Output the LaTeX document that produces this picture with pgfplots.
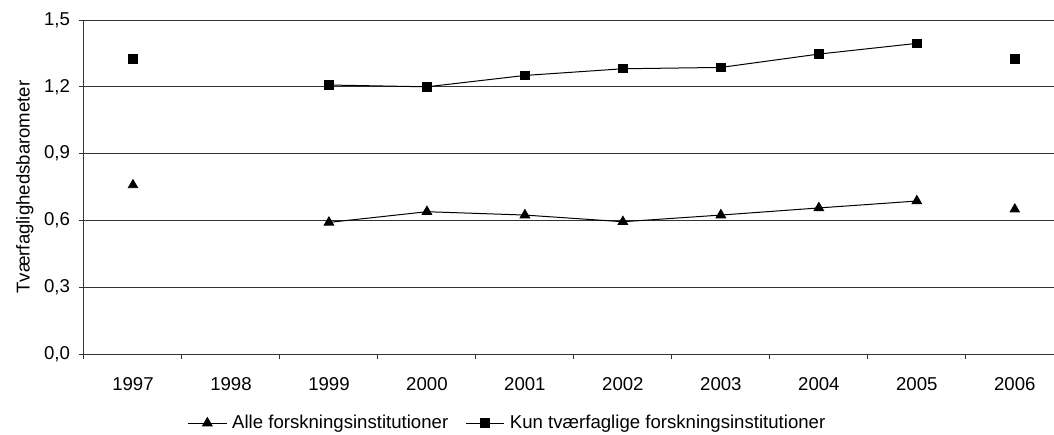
\documentclass[border=0pt]{standalone}
\usepackage{pgfplots}
\pgfplotsset{compat=1.18}
\usepackage{fontspec}
\setmainfont{Liberation Sans}
\begin{document}
\begin{tikzpicture}
\path[use as bounding box] (-42pt,-40pt) rectangle (485pt,177pt);
\begin{axis}[
  at={(0,0)}, anchor=south west,
  scale only axis, width=485pt, height=167pt,
  xmin=-0.5, xmax=9.4, ymin=0, ymax=1.5,
  axis x line*=bottom, axis y line*=left,
  axis line style={black!80, line width=0.5pt},
  ytick={0,0.3,0.6,0.9,1.2,1.5},
  yticklabels={0{,}0,0{,}3,0{,}6,0{,}9,1{,}2,1{,}5},
  ymajorgrids, grid style={black!80, line width=0.5pt},
  xtick={-0.5,0.5,...,8.5}, xticklabels={},
  extra x ticks={0,1,2,3,4,5,6,7,8,9},
  extra x tick labels={1997,1998,1999,2000,2001,2002,2003,2004,2005,2006},
  extra x tick style={major tick length=0pt, grid=none},
  tick align=outside, major tick length=2.5pt,
  tick style={black!80, line width=0.5pt},
  every tick label/.append style={font=\fontsize{9.3}{10}\selectfont},
  xticklabel style={yshift=-8pt},
  yticklabel style={xshift=-1pt},
  ylabel={Tværfaglighedsbarometer},
  ylabel style={at={(axis description cs:-0.061,0.5)}, anchor=center, font=\fontsize{9.3}{10}\selectfont},
  legend style={at={(axis description cs:0.437,-0.207)}, anchor=center, draw=none, fill=none,
    font=\fontsize{9.3}{10}\selectfont, legend columns=2, column sep=1pt,
    /tikz/every even column/.append style={column sep=7pt},
    nodes={inner sep=1.5pt}},
  legend image code/.code={\draw[mark repeat=2,mark phase=2,#1] plot coordinates {(0,0)(0.34cm,0)(0.68cm,0)};},
  clip=false,
]
\addplot[black, line width=0.5pt, mark=triangle*, mark size=2.7pt] coordinates {
  (2,0.591) (3,0.639) (4,0.624) (5,0.594) (6,0.624) (7,0.656) (8,0.687)};
\addlegendentry{Alle forskningsinstitutioner}
\addplot[black, line width=0.5pt, mark=square*, mark size=2.1pt] coordinates {
  (2,1.208) (3,1.200) (4,1.251) (5,1.281) (6,1.287) (7,1.347) (8,1.395)};
\addlegendentry{Kun tværfaglige forskningsinstitutioner}
\addplot[black, only marks, mark=triangle*, mark size=2.7pt, forget plot] coordinates {
  (0,0.759) (9,0.650)};
\addplot[black, only marks, mark=square*, mark size=2.1pt, forget plot] coordinates {
  (0,1.325) (9,1.325)};
\end{axis}
\end{tikzpicture}
\end{document}
